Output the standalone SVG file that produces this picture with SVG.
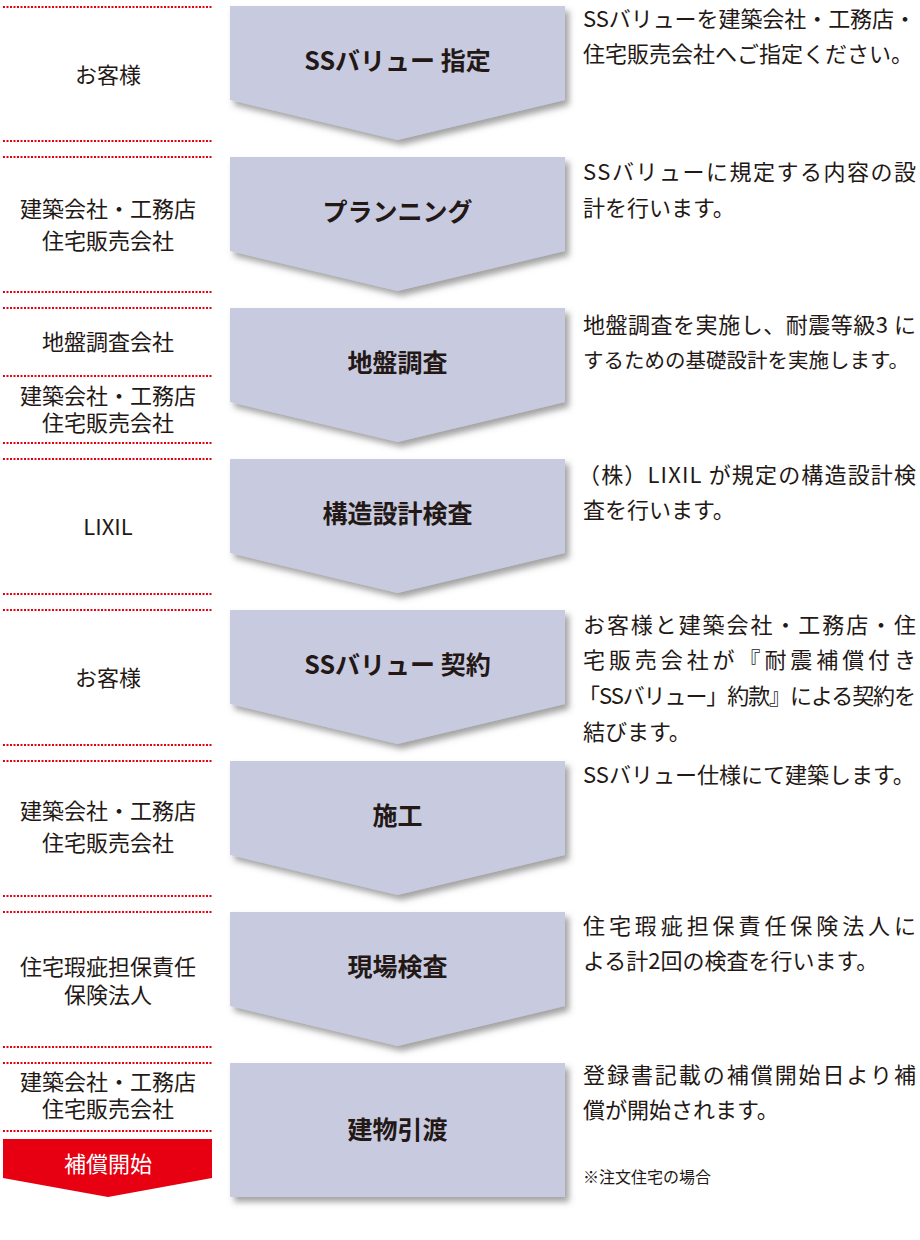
<svg xmlns="http://www.w3.org/2000/svg" width="920" height="1240" viewBox="0 0 920 1240">
<defs>
<filter id="sh" x="-10%" y="-10%" width="125%" height="130%">
<feDropShadow dx="4" dy="5" stdDeviation="3" flood-color="#555" flood-opacity="0.55"/>
</filter>
<style>
.chev{fill:#c8cbe0;filter:url(#sh)}
.title{font-family:"Noto Sans CJK JP","Noto Sans",sans-serif;font-weight:bold;font-size:25px;fill:#231815;text-anchor:middle}
.role{font-family:"Noto Sans CJK JP","Noto Sans",sans-serif;font-size:22px;fill:#231815;text-anchor:middle}
.desc{font-family:"Noto Sans CJK JP","Noto Sans",sans-serif;font-size:22px;fill:#231815}
.note{font-family:"Noto Sans CJK JP","Noto Sans",sans-serif;font-size:16px;fill:#231815}
.dot{stroke:#e60012;stroke-width:2;stroke-dasharray:2 1.5;fill:none}
</style>
</defs>
<rect width="920" height="1240" fill="#ffffff"/>

<g id="separators">
<line class="dot" x1="3" y1="7" x2="212" y2="7"/>
<line class="dot" x1="3" y1="141" x2="212" y2="141"/>
<line class="dot" x1="3" y1="157" x2="212" y2="157"/>
<line class="dot" x1="3" y1="292" x2="212" y2="292"/>
<line class="dot" x1="3" y1="308" x2="212" y2="308"/>
<line class="dot" x1="3" y1="376" x2="212" y2="376"/>
<line class="dot" x1="3" y1="443" x2="212" y2="443"/>
<line class="dot" x1="3" y1="459" x2="212" y2="459"/>
<line class="dot" x1="3" y1="594" x2="212" y2="594"/>
<line class="dot" x1="3" y1="610" x2="212" y2="610"/>
<line class="dot" x1="3" y1="745" x2="212" y2="745"/>
<line class="dot" x1="3" y1="761" x2="212" y2="761"/>
<line class="dot" x1="3" y1="896" x2="212" y2="896"/>
<line class="dot" x1="3" y1="912" x2="212" y2="912"/>
<line class="dot" x1="3" y1="1047" x2="212" y2="1047"/>
<line class="dot" x1="3" y1="1063" x2="212" y2="1063"/>
<line class="dot" x1="3" y1="1131" x2="212" y2="1131"/>
</g>

<g id="step1">
<path class="chev" d="M230,6 H565 V100 L397.5,140 L230,100 Z"/>
<text class="title" x="397.5" y="70">SSバリュー 指定</text>
<text class="role" x="108" y="83">お客様</text>
<text class="desc" x="583" y="27" textLength="333" lengthAdjust="spacing">SSバリューを建築会社・工務店・</text>
<text class="desc" x="583" y="62">住宅販売会社へご指定ください。</text>
</g>

<g id="step2">
<path class="chev" d="M230,157 H565 V251 L397.5,291 L230,251 Z"/>
<text class="title" x="397.5" y="221">プランニング</text>
<text class="role" x="108" y="217">建築会社・工務店</text>
<text class="role" x="108" y="249">住宅販売会社</text>
<text class="desc" x="583" y="180" textLength="333" lengthAdjust="spacing">SSバリューに規定する内容の設</text>
<text class="desc" x="583" y="216">計を行います。</text>
</g>

<g id="step3">
<path class="chev" d="M230,308 H565 V402 L397.5,442 L230,402 Z"/>
<text class="title" x="397.5" y="372">地盤調査</text>
<text class="role" x="108" y="350">地盤調査会社</text>
<text class="role" x="108" y="404">建築会社・工務店</text>
<text class="role" x="108" y="431">住宅販売会社</text>
<text class="desc" x="583" y="333" textLength="333" lengthAdjust="spacing">地盤調査を実施し、耐震等級3 に</text>
<text class="desc" x="583" y="368" style="font-size:20.5px">するための基礎設計を実施します。</text>
</g>

<g id="step4">
<path class="chev" d="M230,459 H565 V553 L397.5,593 L230,553 Z"/>
<text class="title" x="397.5" y="523">構造設計検査</text>
<text class="role" x="108" y="535">LIXIL</text>
<text class="desc" x="578" y="483" textLength="338" lengthAdjust="spacing">（株）LIXIL が規定の構造設計検</text>
<text class="desc" x="583" y="518">査を行います。</text>
</g>

<g id="step5">
<path class="chev" d="M230,610 H565 V704 L397.5,744 L230,704 Z"/>
<text class="title" x="397.5" y="674">SSバリュー 契約</text>
<text class="role" x="108" y="686">お客様</text>
<text class="desc" x="583" y="633" textLength="333" lengthAdjust="spacing">お客様と建築会社・工務店・住</text>
<text class="desc" x="583" y="668" textLength="333" lengthAdjust="spacing">宅販売会社が『耐震補償付き</text>
<text class="desc" x="578" y="704" textLength="338" lengthAdjust="spacing">「SSバリュー」約款』による契約を</text>
<text class="desc" x="583" y="740">結びます。</text>
</g>

<g id="step6">
<path class="chev" d="M230,761 H565 V855 L397.5,895 L230,855 Z"/>
<text class="title" x="397.5" y="825">施工</text>
<text class="role" x="108" y="819">建築会社・工務店</text>
<text class="role" x="108" y="851">住宅販売会社</text>
<text class="desc" x="583" y="783">SSバリュー仕様にて建築します。</text>
</g>

<g id="step7">
<path class="chev" d="M230,912 H565 V1006 L397.5,1046 L230,1006 Z"/>
<text class="title" x="397.5" y="976">現場検査</text>
<text class="role" x="108" y="975">住宅瑕疵担保責任</text>
<text class="role" x="108" y="1003">保険法人</text>
<text class="desc" x="583" y="934" textLength="333" lengthAdjust="spacing">住宅瑕疵担保責任保険法人に</text>
<text class="desc" x="583" y="969">よる計2回の検査を行います。</text>
</g>

<g id="step8">
<rect class="chev" x="230" y="1063" width="335" height="134"/>
<text class="title" x="397.5" y="1139">建物引渡</text>
<text class="role" x="108" y="1090">建築会社・工務店</text>
<text class="role" x="108" y="1117">住宅販売会社</text>
<text class="desc" x="583" y="1083" textLength="333" lengthAdjust="spacing">登録書記載の補償開始日より補</text>
<text class="desc" x="583" y="1118">償が開始されます。</text>
<text class="note" x="583" y="1183">※注文住宅の場合</text>
</g>

<g id="start">
<path d="M3,1139 H212 V1178 L108,1197 L3,1178 Z" fill="#e60012"/>
<text class="role" x="108" y="1172" style="fill:#ffffff">補償開始</text>
</g>
</svg>
